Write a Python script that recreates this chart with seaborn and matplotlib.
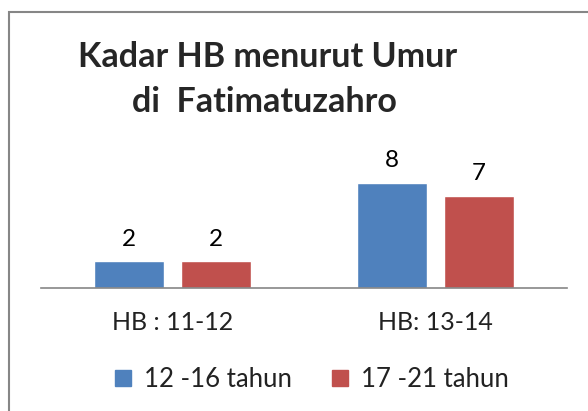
import matplotlib
matplotlib.use("Agg")
import matplotlib.pyplot as plt
import seaborn as sns
import pandas as pd
from matplotlib.patches import Rectangle
from matplotlib.lines import Line2D

# data
categories = ["HB : 11-12", "HB: 13-14"]
groups = ["12 -16 tahun", "17 -21 tahun"]
values_12_16 = [2, 8]
values_17_21 = [2, 7]
colors = ["#4F81BD", "#C0504D"]

df = pd.DataFrame({
    "kategori": categories * 2,
    "umur": [groups[0]] * 2 + [groups[1]] * 2,
    "jumlah": values_12_16 + values_17_21,
})

sns.set_style("white")
plt.rcParams['font.family'] = ['Lato', 'DejaVu Sans']

W, H = 588, 411
fig = plt.figure(figsize=(W / 100, H / 100), dpi=100)
ax = fig.add_axes([41 / W, 123.4 / H, 526 / W, 118 / H])

sns.barplot(data=df, x="kategori", y="jumlah", hue="umur", palette=colors,
            width=0.66, gap=0.195, saturation=1, ax=ax, legend=False)
ax.set_ylim(0, 9)

for c in ax.containers:
    ax.bar_label(c, padding=8.5, fontsize=17.5, color="black")

for s in ["left", "right", "top"]:
    ax.spines[s].set_visible(False)
ax.spines["bottom"].set_color("#868686")
ax.spines["bottom"].set_linewidth(1.2)
ax.set_yticks([])
ax.set_xlabel("")
ax.set_ylabel("")
ax.tick_params(axis="x", length=0, pad=17, labelsize=18, labelcolor="#222222")

# title, two lines
fig.text(268 / W, 1 - 67 / H, "Kadar HB menurut Umur", ha="center", va="baseline",
         fontsize=24.5, fontweight="bold")
fig.text(264 / W, 1 - 112 / H, "di  Fatimatuzahro", ha="center", va="baseline",
         fontsize=24.5, fontweight="bold")

# legend at the bottom
handles = [Line2D([], [], marker="s", linestyle="", markersize=11, color=c) for c in colors]
fig.legend(handles=handles, labels=groups, ncol=2, loc="center",
           bbox_to_anchor=(309.5 / W, 1 - 379 / H), frameon=False, fontsize=18.5,
           handletextpad=0.3, columnspacing=1.4, handlelength=1, labelcolor="#222222")

# chart border (runs off the right and bottom edges)
fig.add_artist(Rectangle((8.5 / W, -0.1), 1.2, 1 - 12.5 / H + 0.1,
                         transform=fig.transFigure, fill=False,
                         edgecolor="#868686", linewidth=1.5))

fig.savefig("out.png", dpi=100)
